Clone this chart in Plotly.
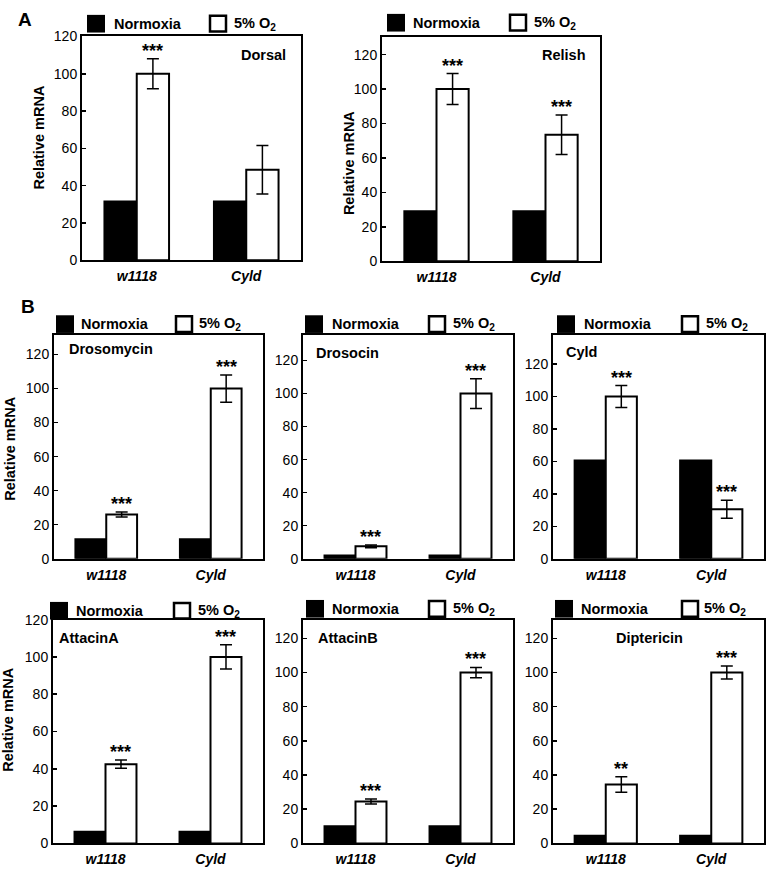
import plotly.graph_objects as go

# ---------------- data ----------------
categories = ["w1118", "Cyld"]
conditions = ["Normoxia", "5% O2"]

dorsal_normoxia = [31.5, 31.5]
dorsal_hypoxia = [100, 48.5]
dorsal_err = [8, 13]
dorsal_sig = ["***", ""]

relish_normoxia = [29, 29]
relish_hypoxia = [100, 73.5]
relish_err = [9, 11.5]
relish_sig = ["***", "***"]

drosomycin_normoxia = [11.5, 11.5]
drosomycin_hypoxia = [26, 100]
drosomycin_err = [1.5, 8]
drosomycin_sig = ["***", "***"]

drosocin_normoxia = [2, 2]
drosocin_hypoxia = [7.5, 100]
drosocin_err = [0.8, 9]
drosocin_sig = ["***", "***"]

cyld_normoxia = [60.5, 60.5]
cyld_hypoxia = [100, 30.5]
cyld_err = [6.8, 5.6]
cyld_sig = ["***", "***"]

attacinA_normoxia = [6.3, 6.3]
attacinA_hypoxia = [42.5, 100]
attacinA_err = [2.2, 6.5]
attacinA_sig = ["***", "***"]

attacinB_normoxia = [10, 10]
attacinB_hypoxia = [24.5, 100]
attacinB_err = [1.5, 3]
attacinB_sig = ["***", "***"]

diptericin_normoxia = [4.5, 4.5]
diptericin_hypoxia = [34.5, 100]
diptericin_err = [4.5, 3.8]
diptericin_sig = ["**", "***"]

y_tick_values = [0, 20, 40, 60, 80, 100, 120]

# ---------------- layout (pixel geometry) ----------------
W, H = 766, 874
FONT = "Liberation Sans, Arial, Helvetica, sans-serif"
BARGAP = 0.41


def fx(px):
    return px / W


def fy(py):
    return 1 - py / H


panels = [
    dict(name="Dorsal", n=dorsal_normoxia, h=dorsal_hypoxia, e=dorsal_err, s=dorsal_sig,
         box=(82, 301, 29, 257), ymax=120, lab=(288, 48, "right"),
         leg=(87, 112, 209, 232, 7, 25), yt=(39, 132)),
    dict(name="Relish", n=relish_normoxia, h=relish_hypoxia, e=relish_err, s=relish_sig,
         box=(382, 600, 30, 258), ymax=130, lab=(588, 48, "right"),
         leg=(387, 411, 509, 532, 6, 24), yt=(349, 158)),
    dict(name="Drosomycin", n=drosomycin_normoxia, h=drosomycin_hypoxia, e=drosomycin_err,
         s=drosomycin_sig, box=(54, 263, 333, 561), ymax=131.5, lab=(67, 347, "left"),
         leg=(56, 79, 175, 197, 313, 331), yt=(10, 449)),
    dict(name="Drosocin", n=drosocin_normoxia, h=drosocin_hypoxia, e=drosocin_err,
         s=drosocin_sig, box=(303, 513, 333, 561), ymax=135.5, lab=(314, 351, "left"),
         leg=(305, 330, 428, 451, 313, 331), yt=None),
    dict(name="Cyld", n=cyld_normoxia, h=cyld_hypoxia, e=cyld_err, s=cyld_sig,
         box=(553, 764, 333, 561), ymax=138, lab=(564, 350, "left"),
         leg=(557, 582, 681, 704, 313, 331), yt=None),
    dict(name="AttacinA", n=attacinA_normoxia, h=attacinA_hypoxia, e=attacinA_err,
         s=attacinA_sig, box=(53, 263, 623, 851), ymax=120, lab=(57, 642, "left"),
         leg=(50, 74, 173, 196, 605, 623), yt=(8, 725)),
    dict(name="AttacinB", n=attacinB_normoxia, h=attacinB_hypoxia, e=attacinB_err,
         s=attacinB_sig, box=(303, 513, 623, 851), ymax=131, lab=(316, 642, "left"),
         leg=(306, 330, 428, 451, 603, 621), yt=None),
    dict(name="Diptericin", n=diptericin_normoxia, h=diptericin_hypoxia, e=diptericin_err,
         s=diptericin_sig, box=(553, 764, 623, 851), ymax=131, lab=(649, 642, "center"),
         leg=(555, 579, 681, 702, 603, 621), yt=None),
]

fig = go.Figure()
annotations = []
shapes = []

for i, p in enumerate(panels):
    k = "" if i == 0 else str(i + 1)
    xa, ya = "x" + k, "y" + k
    x0, x1, y0, y1 = p["box"]
    # offset (px) from category centre to the centre of the 5% O2 bar
    bar_offset = (x1 - x0) / 2 * (1 - BARGAP) / 4

    fig.add_trace(go.Bar(
        x=categories, y=p["n"], name=conditions[0], xaxis=xa, yaxis=ya,
        marker=dict(color="black", line=dict(color="black", width=2)),
        showlegend=False, hoverinfo="skip"))
    fig.add_trace(go.Bar(
        x=categories, y=p["h"], name=conditions[1], xaxis=xa, yaxis=ya,
        marker=dict(color="white", line=dict(color="black", width=2)),
        error_y=dict(type="data", array=p["e"], visible=True, color="black",
                     thickness=1.5, width=6),
        showlegend=False, hoverinfo="skip"))

    fig.layout["xaxis" + k] = dict(
        domain=[fx(x0), fx(x1)], anchor=ya, type="category",
        range=[-0.5, 1.5], showline=True, mirror=True, linecolor="black", linewidth=2,
        ticks="", showgrid=False, zeroline=False, fixedrange=True,
        tickvals=categories,
        ticktext=["<b><i>%s</i></b>" % c for c in categories],
        tickfont=dict(family=FONT, size=14, color="black"),
        ticklabelstandoff=2)
    fig.layout["yaxis" + k] = dict(
        domain=[fy(y1), fy(y0)], anchor=xa, range=[0, p["ymax"]],
        showline=True, mirror=True, linecolor="black", linewidth=2,
        ticks="inside", ticklen=4, tickwidth=1.5, tickcolor="black",
        tickvals=y_tick_values, showgrid=False, zeroline=False, fixedrange=True,
        tickfont=dict(family=FONT, size=14, color="black"))

    for c, hv, ev, sg in zip(categories, p["h"], p["e"], p["s"]):
        if sg:
            annotations.append(dict(
                x=c, y=hv + ev, xref=xa, yref=ya, text="<b>%s</b>" % sg,
                showarrow=False, yanchor="bottom", xanchor="center",
                xshift=bar_offset, yshift=-4,
                font=dict(family=FONT, size=18, color="black")))

    lx, ly, anc = p["lab"]
    annotations.append(dict(
        x=fx(lx), y=fy(ly), xref="paper", yref="paper", text="<b>%s</b>" % p["name"],
        showarrow=False, xanchor=anc, yanchor="middle",
        font=dict(family=FONT, size=14.5, color="black")))

    bx, t1x, wx, t2x, st, sb = p["leg"]
    sq = sb - st
    shapes.append(dict(type="rect", xref="paper", yref="paper",
                       x0=fx(bx), x1=fx(bx + sq), y0=fy(sb), y1=fy(st),
                       fillcolor="black", line=dict(color="black", width=0)))
    shapes.append(dict(type="rect", xref="paper", yref="paper",
                       x0=fx(wx + 1), x1=fx(wx + sq - 1), y0=fy(sb - 1), y1=fy(st + 1),
                       fillcolor="white", line=dict(color="black", width=2.5)))
    ty = (st + sb) / 2
    annotations.append(dict(
        x=fx(t1x), y=fy(ty), xref="paper", yref="paper", text="<b>Normoxia</b>",
        showarrow=False, xanchor="left", yanchor="middle",
        font=dict(family=FONT, size=14.5, color="black")))
    annotations.append(dict(
        x=fx(t2x), y=fy(ty), xref="paper", yref="paper", text="<b>5% O<sub>2</sub></b>",
        showarrow=False, xanchor="left", yanchor="middle",
        font=dict(family=FONT, size=14.5, color="black")))

    if p["yt"] is not None:
        tx, tyy = p["yt"]
        annotations.append(dict(
            x=fx(tx), y=fy(tyy), xref="paper", yref="paper", text="<b>Relative mRNA</b>",
            showarrow=False, textangle=-90, xanchor="center", yanchor="middle",
            font=dict(family=FONT, size=14.5, color="black")))

annotations.append(dict(x=fx(25), y=fy(12), xref="paper", yref="paper", text="<b>A</b>",
                        showarrow=False, xanchor="center", yanchor="middle",
                        font=dict(family=FONT, size=19, color="black")))
annotations.append(dict(x=fx(28), y=fy(304), xref="paper", yref="paper", text="<b>B</b>",
                        showarrow=False, xanchor="center", yanchor="middle",
                        font=dict(family=FONT, size=19, color="black")))

fig.update_layout(
    width=W, height=H, autosize=False,
    margin=dict(l=0, r=0, t=0, b=0),
    paper_bgcolor="white", plot_bgcolor="white",
    barmode="group", bargap=BARGAP, bargroupgap=0,
    annotations=annotations, shapes=shapes,
    font=dict(family=FONT, color="black"),
)

fig.write_html(
    "out.html",
    config={"displayModeBar": False, "staticPlot": True},
    post_script="document.body.style.margin='0';document.body.style.padding='0';"
                "document.body.style.overflow='hidden';",
)
